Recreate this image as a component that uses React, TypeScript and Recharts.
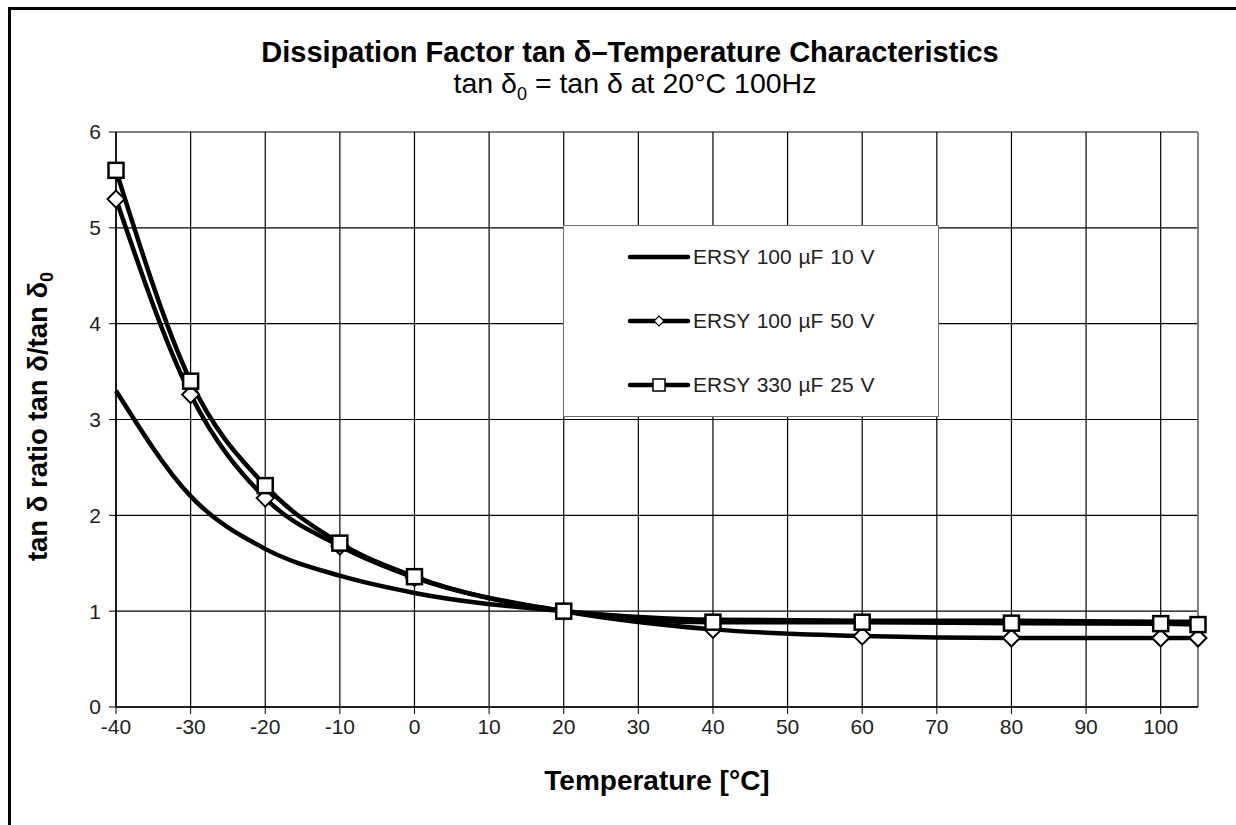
import { LineChart, Line, XAxis, YAxis, CartesianGrid, Legend, ReferenceLine, Label } from 'recharts'

// temperature steps in °C
const temps = [-40, -30, -20, -10, 0, 20, 40, 60, 80, 100, 105]

// tan δ / tan δ0 per capacitor type
const ersy100uF10V = [3.3, 2.2, 1.65, 1.37, 1.19, 1.0, 0.91, 0.9, 0.9, 0.89, 0.89]
const ersy100uF50V = [5.3, 3.26, 2.18, 1.68, 1.35, 1.0, 0.81, 0.74, 0.72, 0.72, 0.72]
const ersy330uF25V = [5.6, 3.4, 2.31, 1.71, 1.36, 1.0, 0.885, 0.885, 0.875, 0.87, 0.86]

const seriesNames = ['ERSY 100 µF 10 V', 'ERSY 100 µF 50 V', 'ERSY 330 µF 25 V']

const xTicks = [-40, -30, -20, -10, 0, 10, 20, 30, 40, 50, 60, 70, 80, 90, 100]
const yTicks = [0, 1, 2, 3, 4, 5, 6]

const data = temps.map((temp, i) => ({
  temp,
  v10: ersy100uF10V[i],
  v50: ersy100uF50V[i],
  v25: ersy330uF25V[i],
}))

const FONT = '"Liberation Sans", Arial, sans-serif'

const SquareDot = (props: any) => {
  const { cx, cy, index } = props
  if (cx == null || cy == null) return null
  return <rect key={`sq-${index}`} x={cx - 7.5} y={cy - 7.5} width={15} height={15} fill="#fff" stroke="#000" strokeWidth={2.5} />
}

const DiamondDot = (props: any) => {
  const { cx, cy, index } = props
  if (cx == null || cy == null) return null
  const r = 8.5
  return (
    <polygon
      key={`dm-${index}`}
      points={`${cx},${cy - r} ${cx + r},${cy} ${cx},${cy + r} ${cx - r},${cy}`}
      fill="#fff"
      stroke="#000"
      strokeWidth={2}
    />
  )
}

const renderLegend = (props: any) => {
  const payload = props.payload || []
  return (
    <div
      style={{
        width: 376,
        height: 192,
        boxSizing: 'border-box',
        background: '#fff',
        border: '1px solid #707070',
        position: 'relative',
      }}
    >
      {payload.map((entry: any, i: number) => (
        <div
          key={entry.value}
          style={{ position: 'absolute', left: 63, top: 31 + i * 64 - 12, height: 24, display: 'flex', alignItems: 'center' }}
        >
          <svg width={64} height={24} style={{ display: 'block' }}>
            <line x1={3} y1={12} x2={61} y2={12} stroke="#000" strokeWidth={4.5} strokeLinecap="round" />
            {entry.dataKey === 'v50' && (
              <polygon points="32,7 37,12 32,17 27,12" fill="#fff" stroke="#000" strokeWidth={1.2} />
            )}
            {entry.dataKey === 'v25' && (
              <rect x={26} y={6} width={12} height={12} fill="#fff" stroke="#000" strokeWidth={1.5} />
            )}
          </svg>
          <span
            style={{
              fontFamily: FONT,
              fontSize: 21,
              color: '#222',
              marginLeft: 2,
              whiteSpace: 'nowrap',
              wordSpacing: 1,
            }}
          >
            {entry.value}
          </span>
        </div>
      ))}
    </div>
  )
}

export default function App() {
  return (
    <div style={{ position: 'fixed', left: 0, top: 0, width: 1236, height: 825, background: '#fff', overflow: 'hidden' }}>
      {/* outer frame, only left and top edges fall inside the page */}
      <div
        style={{
          position: 'absolute',
          left: 8,
          top: 7,
          width: 1300,
          height: 900,
          borderLeft: '3px solid #000',
          borderTop: '3px solid #000',
        }}
      />
      <div
        style={{
          position: 'absolute',
          left: 0,
          top: 35,
          width: 1260,
          textAlign: 'center',
          fontFamily: FONT,
          fontWeight: 'bold',
          fontSize: 29,
          lineHeight: '34px',
          color: '#000',
        }}
      >
        Dissipation Factor tan δ–Temperature Characteristics
      </div>
      <div
        style={{
          position: 'absolute',
          left: 0,
          top: 67,
          width: 1270,
          textAlign: 'center',
          fontFamily: FONT,
          fontSize: 28.5,
          lineHeight: '32px',
          color: '#000',
        }}
      >
        tan δ<sub style={{ fontSize: 18 }}>0</sub> = tan δ at 20°C 100Hz
      </div>
      <div style={{ position: 'absolute', left: 0, top: 0 }}>
        <LineChart width={1236} height={825} data={data} margin={{ top: 132, right: 38, bottom: 88, left: 56 }}>
          <CartesianGrid stroke="#000" strokeWidth={1.2} />
          <XAxis
            dataKey="temp"
            type="number"
            domain={[-40, 105]}
            ticks={xTicks}
            interval={0}
            height={30}
            axisLine={{ stroke: '#000', strokeWidth: 1.5 }}
            tickLine={{ stroke: '#000' }}
            tickSize={7}
            tickMargin={5}
            tick={{ fill: '#222', fontSize: 21, fontFamily: FONT }}
          >
            <Label
              content={(p: any) => {
                const vb = p.viewBox
                return (
                  <text
                    x={vb.x + vb.width / 2}
                    y={vb.y + 83}
                    textAnchor="middle"
                    fontFamily={FONT}
                    fontWeight="bold"
                    fontSize={28}
                    fill="#000"
                  >
                    Temperature [°C]
                  </text>
                )
              }}
            />
          </XAxis>
          <YAxis
            type="number"
            domain={[0, 6]}
            ticks={yTicks}
            interval={0}
            width={60}
            axisLine={{ stroke: '#000', strokeWidth: 1.5 }}
            tickLine={{ stroke: '#000' }}
            tickSize={7}
            tickMargin={8}
            tick={{ fill: '#222', fontSize: 21, fontFamily: FONT }}
          >
            <Label
              content={(p: any) => {
                const vb = p.viewBox
                const x = vb.x - 9
                const y = vb.y + vb.height / 2 - 3
                return (
                  <text
                    x={x}
                    y={y}
                    transform={`rotate(-90 ${x} ${y})`}
                    textAnchor="middle"
                    fontFamily={FONT}
                    fontWeight="bold"
                    fontSize={27.5}
                    fill="#000"
                  >
                    tan δ ratio tan δ/tan δ<tspan fontSize={18} dy={6}>0</tspan>
                  </text>
                )
              }}
            />
          </YAxis>
          <ReferenceLine x={105} stroke="#8c8c8c" strokeWidth={1.5} />
          <Legend
            layout="vertical"
            align="center"
            verticalAlign="middle"
            content={renderLegend}
            wrapperStyle={{ left: 563, top: 225, width: 376, height: 192 }}
          />
          <Line
            name={seriesNames[0]}
            dataKey="v10"
            type="monotone"
            stroke="#000"
            strokeWidth={4.5}
            dot={false}
            activeDot={false}
            isAnimationActive={false}
          />
          <Line
            name={seriesNames[1]}
            dataKey="v50"
            type="monotone"
            stroke="#000"
            strokeWidth={4.5}
            dot={DiamondDot}
            activeDot={false}
            isAnimationActive={false}
          />
          <Line
            name={seriesNames[2]}
            dataKey="v25"
            type="monotone"
            stroke="#000"
            strokeWidth={4.5}
            dot={SquareDot}
            activeDot={false}
            isAnimationActive={false}
          />
        </LineChart>
      </div>
    </div>
  )
}
